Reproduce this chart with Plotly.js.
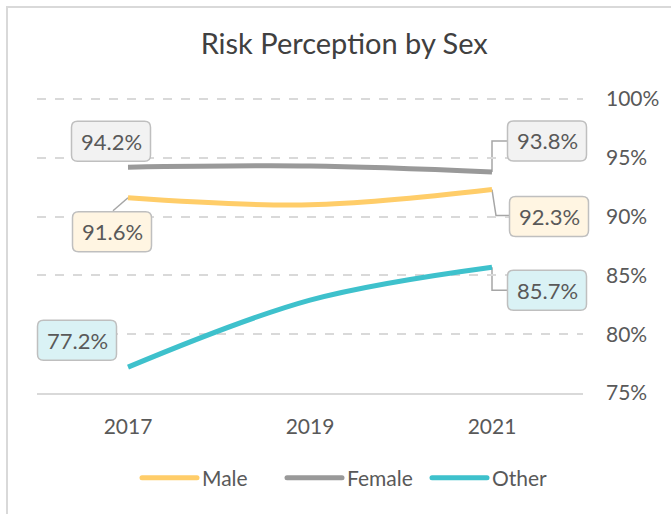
<!DOCTYPE html>
<html>
<head>
<meta charset="utf-8">
<script src="https://cdn.plot.ly/plotly-3.0.1.min.js"></script>
<style>
  html, body { margin: 0; padding: 0; background: #ffffff; }
  #wrap { position: relative; width: 671px; height: 514px; overflow: hidden; }
  #chart { position: absolute; left: 0; top: 0; width: 671px; height: 514px; }
  #frame { position: absolute; left: 6px; top: 6px; width: 700px; height: 600px;
           border-left: 2px solid #d9d9d9; border-top: 2px solid #d9d9d9; pointer-events: none; }
  #err { position: absolute; left: 10px; top: 10px; color: red; font: 12px sans-serif; }
</style>
</head>
<body>
<div id="wrap"><div id="chart"></div><div id="frame"></div><div id="err"></div></div>
<script>
// ---- data ----
const years = ['2017', '2019', '2021'];
const seriesNames = ['Male', 'Female', 'Other'];
const maleValues = [91.6, 91.0, 92.3];
const femaleValues = [94.2, 94.3, 93.8];
const otherValues = [77.2, 82.9, 85.7];
const yTickValues = [75, 80, 85, 90, 95, 100];
const yTickLabels = ['75%', '80%', '85%', '90%', '95%', '100%'];

// ---- styles ----
const FONT = 'Lato, "Open Sans", sans-serif';
const TEXT = '#595959';
const lineColors = ['#ffcd69', '#999999', '#3ec1cc'];
const boxFills = ['#fff5e2', '#f2f2f2', '#daf2f5'];
const allValues = [maleValues, femaleValues, otherValues];

const traces = allValues.map((vals, i) => ({
  type: 'scatter',
  mode: 'lines',
  name: seriesNames[i],
  x: years,
  y: vals,
  line: { color: lineColors[i], width: 5, shape: 'spline', smoothing: 1 },
  hoverinfo: 'skip'
}));

// label box centre offsets in pixels from the data point (y up)
const labelStyle = {
  0: { first: [-16, -34], last: [57, -27] },
  1: { first: [-17, 26], last: [55, 31] },
  2: { first: [-51, 27], last: [55, -23] }
};
const connectors = {
  '0-first': 'M0,0 L-15,-13',
  '0-last': 'M0,0 L4,-26 L17,-26',
  '1-last': 'M0,0 L0,31 L15,31',
  '2-last': 'M0,0 L0,-23 L15,-23'
};
const BOX_W = 79, BOX_H = 40, BOX_R = 6;

function roundedRect(cx, cy, w, h, r) {
  const l = cx - w / 2, rt = cx + w / 2, t = cy + h / 2, b = cy - h / 2;
  return `M${l + r},${t} L${rt - r},${t} Q${rt},${t} ${rt},${t - r} L${rt},${b + r} ` +
         `Q${rt},${b} ${rt - r},${b} L${l + r},${b} Q${l},${b} ${l},${b + r} ` +
         `L${l},${t - r} Q${l},${t} ${l + r},${t} Z`;
}

const annotations = [];
const shapes = [];
allValues.forEach((vals, i) => {
  [['first', 0], ['last', vals.length - 1]].forEach(([key, idx]) => {
    const off = labelStyle[i][key];
    const c = connectors[i + '-' + key];
    if (c) {
      shapes.push({
        type: 'path', xref: 'x', yref: 'y',
        xsizemode: 'pixel', ysizemode: 'pixel',
        xanchor: idx, yanchor: vals[idx],
        path: c,
        line: { color: '#a6a6a6', width: 1.5 },
        layer: 'below'
      });
    }
    shapes.push({
      type: 'path', xref: 'x', yref: 'y',
      xsizemode: 'pixel', ysizemode: 'pixel',
      xanchor: idx, yanchor: vals[idx],
      path: roundedRect(off[0], off[1], BOX_W, BOX_H, BOX_R),
      fillcolor: boxFills[i],
      line: { color: '#bfbfbf', width: 1.5 },
      layer: 'above'
    });
    annotations.push({
      x: idx, y: vals[idx], xref: 'x', yref: 'y',
      text: vals[idx].toFixed(1) + '%',
      showarrow: false,
      xshift: off[0], yshift: off[1],
      font: { family: FONT, size: 22, color: TEXT }
    });
  });
});

const layout = {
  width: 671, height: 514,
  margin: { l: 37, r: 88, t: 97, b: 121 },
  paper_bgcolor: '#ffffff', plot_bgcolor: '#ffffff',
  font: { family: FONT, size: 21, color: TEXT },
  title: {
    text: 'Risk Perception by Sex',
    font: { family: FONT, size: 29, color: '#404040' },
    x: 0.513, xanchor: 'center',
    yref: 'container', y: 1 - 44 / 514, yanchor: 'middle'
  },
  xaxis: {
    type: 'category', range: [-0.5, 2.5],
    showgrid: false, zeroline: false,
    showline: true, linecolor: '#d9d9d9', linewidth: 2,
    ticks: '', ticklabelstandoff: 14,
    tickfont: { family: FONT, size: 21, color: TEXT },
    fixedrange: true
  },
  yaxis: {
    side: 'right', range: [75, 100.17],
    tickvals: yTickValues, ticktext: yTickLabels,
    showgrid: true, gridcolor: '#d9d9d9', gridwidth: 2, griddash: 'dash',
    zeroline: false, showline: false, ticks: '',
    ticklabelstandoff: 22,
    tickfont: { family: FONT, size: 21, color: TEXT },
    fixedrange: true
  },
  showlegend: true,
  legend: {
    orientation: 'h',
    entrywidth: 100,
    xref: 'container', x: 162 / 671, xanchor: 'left',
    yref: 'container', y: 1 - 478 / 514, yanchor: 'middle',
    font: { family: FONT, size: 21, color: TEXT },
    itemclick: false, itemdoubleclick: false
  },
  annotations: annotations,
  shapes: shapes
};

Plotly.newPlot('chart', traces, layout, { displayModeBar: false, staticPlot: true })
  .then(gd => {
    // let label boxes overhang the plot area, as in the original
    gd.querySelectorAll('.shapelayer [clip-path]').forEach(el => el.removeAttribute('clip-path'));
    // longer legend line samples with round caps
    gd.querySelectorAll('.legend [clip-path]').forEach(el => el.removeAttribute('clip-path'));
    gd.querySelectorAll('.legend .legendlines path').forEach(p => {
      p.setAttribute('d', 'M-20,0h55');
      p.style.strokeLinecap = 'round';
    });
  })
  .catch(e => { document.getElementById('err').textContent = String(e && e.stack || e); });
window.onerror = function (m) { document.getElementById('err').textContent += ' ' + m; };
</script>
</body>
</html>
